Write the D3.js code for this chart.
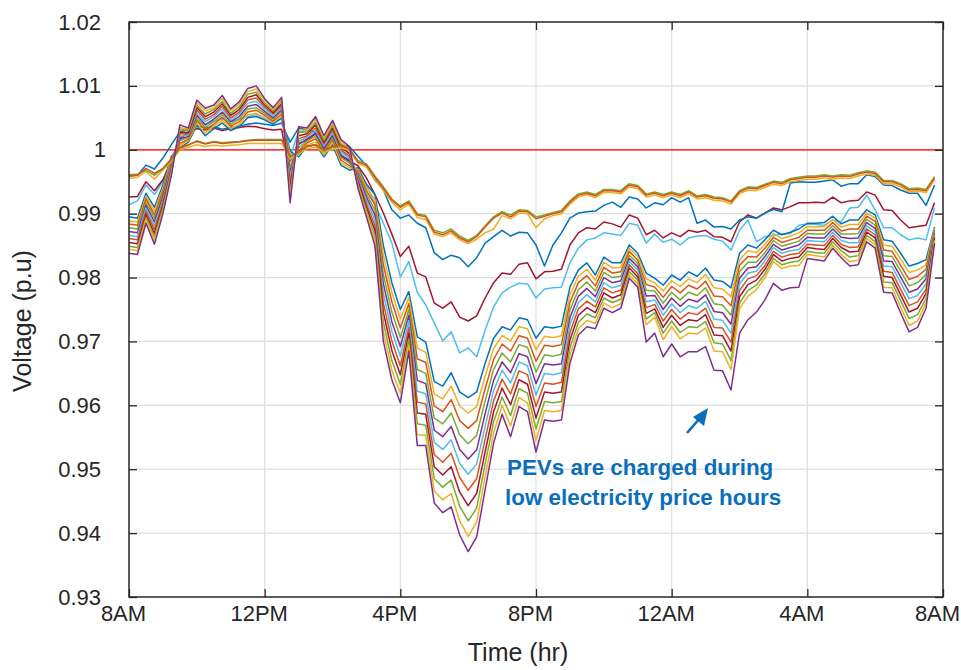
<!DOCTYPE html>
<html>
<head>
<meta charset="utf-8">
<script src="https://cdn.jsdelivr.net/npm/d3@7"></script>
<style>
  body { margin: 0; background: #fff; }
  text { font-family: "Liberation Sans", Arial, Helvetica, sans-serif; }
</style>
</head>
<body>
<svg id="chart" width="961" height="670"></svg>
<script>
// Bus voltage profiles over 24 h, sampled every 15 min starting 8AM.
// Values are stored in units of 1e-4 p.u. (e.g. 9959 -> 0.9959 p.u.).

const xTickHours  = [0, 4, 8, 12, 16, 20, 24];
const xTickLabels = ["8AM", "12PM", "4PM", "8PM", "12AM", "4AM", "8AM"];
const yTickValues = [0.93, 0.94, 0.95, 0.96, 0.97, 0.98, 0.99, 1.00, 1.01, 1.02];
const yTickLabels = ["0.93", "0.94", "0.95", "0.96", "0.97", "0.98", "0.99", "1", "1.01", "1.02"];

// buses close to the substation
const busHeadA = [
  9959,9960,9971,9963,9971,9986,10004,10008, 10013,10009,10012,10010,10011,10012,10014,10015,
  10015,10015,10015,9990,9997,10006,10008,10000, 10005,10007,10002,9981,9976,9957,9940,9921,
  9910,9918,9898,9895,9871,9867,9873,9862, 9856,9864,9879,9893,9901,9895,9904,9903,
  9892,9896,9900,9903,9918,9929,9932,9928, 9936,9936,9934,9945,9942,9929,9932,9928,
  9932,9928,9934,9926,9928,9924,9923,9918, 9934,9940,9939,9944,9949,9947,9953,9955,
  9957,9957,9959,9957,9959,9958,9962,9965, 9963,9950,9950,9945,9937,9938,9936,9956];
const busHeadB = [
  9961,9962,9968,9960,9970,9984,10002,10007, 10014,10010,10013,10011,10012,10013,10015,10016,
  10016,10016,10016,9988,9995,10005,10007,9998, 10004,10006,10001,9983,9978,9959,9942,9923,
  9912,9920,9900,9897,9874,9870,9876,9865, 9858,9866,9881,9895,9903,9898,9906,9905,
  9895,9898,9902,9905,9920,9931,9934,9930, 9938,9938,9936,9947,9944,9931,9934,9930,
  9934,9930,9936,9928,9930,9926,9925,9920, 9936,9942,9941,9946,9951,9949,9955,9957,
  9959,9959,9961,9959,9961,9960,9964,9967, 9965,9952,9952,9947,9939,9940,9938,9958];
const busHeadC = [
  9955,9957,9966,9954,9968,9982,10000,10004, 10008,10005,10007,10006,10007,10008,10010,10010,
  10010,10010,10010,9986,9993,10002,10004,9996, 10001,10003,9999,9979,9973,9954,9936,9918,
  9906,9915,9894,9891,9868,9864,9870,9859, 9853,9860,9870,9876,9897,9892,9901,9900,
  9878,9892,9897,9900,9915,9926,9930,9925, 9933,9933,9931,9942,9939,9926,9929,9925,
  9929,9925,9931,9923,9925,9921,9920,9915, 9931,9937,9936,9941,9946,9944,9950,9952,
  9954,9954,9956,9954,9956,9955,9959,9962, 9960,9947,9947,9942,9934,9935,9933,9953];

// intermediate buses
const busMidBlue = [
  9959,9960,9976,9970,9987,10008,10028,10032, 10038,10034,10036,10032,10035,10037,10040,10042,
  10040,10038,10042,10012,10034,10031,10027,10020, 10018,10008,10005,9990,9975,9953,9937,9906,
  9893,9898,9885,9878,9839,9828,9835,9831, 9817,9831,9854,9864,9874,9865,9871,9870,
  9851,9818,9851,9870,9893,9901,9903,9904, 9913,9918,9910,9926,9923,9909,9917,9914,
  9925,9918,9925,9885,9890,9879,9880,9876, 9890,9895,9893,9901,9907,9903,9948,9950,
  9949,9949,9951,9953,9943,9947,9947,9961, 9958,9945,9944,9937,9932,9932,9913,9945];
const busMidRed = [
  9926,9927,9950,9936,9953,9984,10018,10026, 10033,10031,10034,10030,10033,10035,10037,10036,
  10033,10031,10032,9960,10010,10015,10025,10002, 10020,9990,9982,9975,9956,9930,9901,9868,
  9833,9849,9807,9801,9760,9752,9762,9738, 9732,9740,9768,9792,9807,9805,9821,9823,
  9798,9809,9810,9813,9851,9870,9878,9876, 9887,9884,9879,9898,9893,9867,9874,9862,
  9870,9864,9874,9871,9874,9864,9863,9856, 9887,9898,9893,9901,9909,9906,9911,9917,
  9917,9918,9917,9926,9917,9920,9921,9934, 9929,9906,9905,9890,9878,9880,9882,9917];
const busMidCyan = [
  9914,9920,9945,9930,9950,9980,10018,10028, 10045,10040,10045,10048,10044,10048,10052,10055,
  10050,10045,10048,9990,10028,10030,10051,10015, 10040,10000,9985,9965,9945,9915,9885,9854,
  9801,9825,9777,9757,9729,9701,9715,9682, 9690,9676,9718,9754,9776,9785,9791,9790,
  9768,9782,9784,9785,9823,9846,9859,9862, 9870,9868,9866,9885,9882,9854,9868,9855,
  9860,9851,9862,9865,9866,9860,9857,9843, 9874,9890,9856,9864,9866,9868,9869,9882,
  9884,9883,9882,9890,9887,9909,9910,9929, 9906,9878,9878,9867,9859,9862,9859,9909];

// remote buses with PEV load (ordered from nearest to farthest)
const busFar00 = [
  9895,9893,9932,9910,9945,9990,10003,10012, 10038,10022,10033,10042,10030,10036,10050,10052,
  10047,10040,10050,9998,9989,10005,10008,9989, 10008,9976,9968,9972,9946,9930,9850,9792,
  9750,9778,9707,9699,9637,9630,9651,9621, 9612,9621,9666,9705,9723,9718,9737,9734,
  9705,9723,9721,9724,9785,9812,9823,9804, 9832,9823,9823,9851,9838,9807,9799,9788,
  9804,9796,9809,9802,9815,9796,9794,9784, 9838,9851,9846,9859,9874,9867,9871,9876,
  9885,9885,9886,9896,9884,9890,9890,9906, 9898,9859,9857,9838,9818,9822,9828,9879];
const busFar01 = [
  9889,9887,9927,9904,9940,9987,10007,10014, 10042,10026,10037,10046,10033,10040,10055,10057,
  10050,10043,10053,9990,9994,10008,10012,9992, 10012,9980,9972,9969,9941,9922,9835,9777,
  9735,9769,9690,9683,9618,9610,9630,9599, 9588,9598,9646,9689,9709,9701,9723,9720,
  9687,9708,9706,9709,9773,9802,9813,9796, 9824,9815,9816,9846,9833,9798,9792,9779,
  9795,9786,9798,9792,9805,9784,9782,9770, 9828,9842,9839,9852,9869,9861,9865,9870,
  9880,9879,9880,9891,9879,9883,9883,9901, 9893,9851,9849,9829,9808,9812,9820,9877];
const busFar02 = [
  9884,9882,9923,9898,9936,9984,10010,10016, 10046,10031,10040,10051,10037,10044,10059,10062,
  10054,10045,10056,9982,9998,10011,10017,9996, 10016,9984,9975,9966,9936,9914,9820,9762,
  9721,9759,9673,9667,9599,9590,9609,9576, 9564,9576,9626,9672,9696,9685,9709,9705,
  9669,9694,9692,9695,9761,9792,9803,9787, 9816,9807,9809,9841,9827,9789,9785,9769,
  9786,9776,9788,9782,9794,9771,9770,9756, 9819,9833,9832,9846,9863,9855,9859,9863,
  9874,9874,9874,9886,9873,9876,9876,9896, 9888,9843,9841,9819,9797,9802,9813,9874];
const busFar03 = [
  9878,9876,9918,9893,9931,9981,10014,10019, 10050,10035,10044,10055,10040,10048,10064,10066,
  10057,10048,10060,9974,10003,10014,10021,9999, 10019,9988,9979,9962,9931,9906,9805,9746,
  9706,9750,9656,9650,9580,9571,9588,9554, 9540,9553,9607,9656,9682,9668,9695,9691,
  9652,9679,9677,9680,9749,9781,9793,9779, 9808,9800,9802,9835,9822,9780,9779,9760,
  9777,9765,9777,9772,9784,9759,9757,9741, 9809,9824,9824,9839,9858,9849,9853,9857,
  9869,9868,9868,9881,9868,9868,9869,9891, 9882,9834,9833,9810,9787,9792,9805,9872];
const busFar04 = [
  9872,9870,9913,9887,9927,9978,10017,10021, 10054,10039,10048,10059,10044,10052,10068,10071,
  10060,10050,10063,9966,10008,10017,10026,10002, 10023,9992,9983,9959,9926,9898,9790,9731,
  9692,9741,9639,9634,9561,9551,9567,9531, 9516,9530,9587,9639,9668,9651,9681,9676,
  9634,9665,9663,9665,9737,9771,9783,9770, 9800,9792,9795,9830,9817,9771,9772,9750,
  9768,9755,9766,9762,9773,9747,9745,9727, 9799,9815,9817,9833,9852,9843,9847,9851,
  9863,9862,9862,9876,9863,9861,9862,9886, 9877,9826,9825,9801,9777,9782,9798,9869];
const busFar05 = [
  9866,9864,9909,9881,9922,9975,10021,10023, 10058,10044,10052,10064,10047,10056,10073,10076,
  10064,10053,10066,9958,10013,10020,10030,10006, 10027,9996,9987,9956,9921,9890,9775,9716,
  9677,9732,9622,9618,9542,9531,9546,9509, 9492,9508,9567,9623,9655,9635,9668,9662,
  9616,9650,9648,9651,9726,9761,9773,9762, 9792,9784,9788,9825,9812,9762,9765,9741,
  9759,9745,9756,9752,9763,9735,9733,9713, 9790,9807,9810,9826,9847,9838,9842,9844,
  9858,9857,9856,9871,9858,9854,9855,9881, 9872,9818,9817,9792,9767,9772,9790,9867];
const busFar06 = [
  9861,9859,9904,9875,9918,9972,10025,10025, 10062,10048,10055,10068,10050,10059,10078,10081,
  10067,10056,10069,9949,10017,10022,10034,10009, 10031,10000,9990,9953,9915,9882,9760,9701,
  9662,9722,9605,9602,9523,9511,9525,9487, 9467,9485,9547,9607,9641,9618,9654,9648,
  9598,9635,9633,9636,9714,9751,9763,9754, 9784,9776,9780,9820,9806,9753,9758,9732,
  9750,9735,9745,9742,9752,9722,9721,9699, 9780,9798,9803,9819,9841,9832,9836,9838,
  9852,9851,9850,9866,9852,9847,9848,9876, 9867,9810,9808,9782,9756,9762,9782,9864];
const busFar07 = [
  9855,9853,9899,9869,9913,9969,10028,10027, 10066,10052,10059,10072,10054,10063,10082,10086,
  10070,10058,10072,9941,10022,10025,10039,10012, 10035,10004,9994,9950,9910,9874,9745,9686,
  9648,9713,9588,9586,9504,9491,9504,9464, 9443,9462,9527,9590,9627,9601,9640,9633,
  9580,9621,9619,9621,9702,9741,9753,9745, 9776,9768,9773,9815,9801,9744,9751,9722,
  9741,9725,9734,9732,9742,9710,9709,9685, 9770,9789,9796,9813,9836,9826,9830,9832,
  9847,9845,9844,9861,9847,9840,9841,9871, 9862,9802,9800,9773,9746,9752,9775,9862];
const busFar08 = [
  9849,9847,9894,9864,9909,9966,10032,10030, 10070,10056,10063,10076,10057,10067,10087,10090,
  10073,10061,10076,9933,10027,10028,10043,10015, 10038,10008,9998,9946,9905,9866,9730,9670,
  9633,9704,9571,9569,9485,9472,9483,9442, 9419,9439,9508,9574,9613,9584,9626,9619,
  9563,9606,9604,9606,9690,9730,9743,9737, 9768,9761,9766,9809,9796,9735,9745,9713,
  9732,9714,9723,9722,9731,9698,9696,9670, 9760,9780,9788,9806,9830,9820,9824,9826,
  9841,9839,9838,9856,9842,9832,9834,9866, 9856,9793,9792,9764,9736,9742,9767,9859];
const busFar09 = [
  9844,9842,9890,9858,9904,9963,10035,10032, 10074,10061,10066,10081,10061,10071,10091,10095,
  10077,10063,10079,9925,10031,10031,10048,10019, 10042,10012,10001,9943,9900,9858,9715,9655,
  9619,9694,9554,9553,9466,9452,9462,9419, 9395,9417,9488,9557,9600,9568,9612,9604,
  9545,9592,9590,9592,9678,9720,9733,9728, 9760,9753,9759,9804,9790,9726,9738,9703,
  9723,9704,9713,9712,9721,9685,9684,9656, 9751,9771,9781,9800,9825,9814,9818,9819,
  9836,9834,9832,9851,9836,9825,9827,9861, 9851,9785,9784,9754,9725,9732,9760,9857];
const busFar10 = [
  9838,9836,9885,9852,9900,9960,10039,10034, 10078,10065,10070,10085,10064,10075,10096,10100,
  10080,10066,10082,9917,10036,10034,10052,10022, 10046,10016,10005,9940,9895,9850,9700,9640,
  9604,9685,9537,9537,9447,9432,9441,9397, 9371,9394,9468,9541,9586,9551,9598,9590,
  9527,9577,9575,9577,9666,9710,9723,9720, 9752,9745,9752,9799,9785,9699,9713,9676,
  9696,9676,9684,9684,9692,9655,9654,9624, 9713,9734,9746,9765,9791,9780,9784,9785,
  9830,9828,9826,9846,9831,9818,9820,9856, 9846,9777,9776,9745,9715,9722,9752,9854];

// drawing order (last drawn on top) and line colours
const seriesList = [
  busMidCyan, busMidRed, busMidBlue,
  busFar00, busFar01, busFar02, busFar03, busFar04, busFar05,
  busFar06, busFar07, busFar08, busFar09,
  busHeadC, busHeadB, busHeadA, busFar10
];
const seriesColors = [
  "#4DBEEE", "#A2142F", "#0072BD",
  "#0072BD", "#EDB120", "#D95319", "#77AC30", "#7E2F8E", "#4DBEEE",
  "#D95319", "#A2142F", "#77AC30", "#EDB120",
  "#EDB120", "#77AC30", "#D95319", "#7E2F8E"
];

const svg = d3.select("#chart");
const W = 961, H = 670;
const plot = { left: 129, right: 943, top: 22, bottom: 597 };

const x = d3.scaleLinear().domain([0, 24]).range([plot.left, plot.right]);
const y = d3.scaleLinear().domain([0.93, 1.02]).range([plot.bottom, plot.top]);

svg.append("rect").attr("width", W).attr("height", H).attr("fill", "#fff");

// grid
const grid = svg.append("g").attr("stroke", "#dedede").attr("stroke-width", 1.2);
grid.selectAll("line.gx").data(xTickHours.slice(1, -1)).join("line")
  .attr("x1", d => x(d)).attr("x2", d => x(d))
  .attr("y1", plot.top).attr("y2", plot.bottom);
grid.selectAll("line.gy").data(yTickValues.slice(1, -1)).join("line")
  .attr("x1", plot.left).attr("x2", plot.right)
  .attr("y1", d => y(d)).attr("y2", d => y(d));

// 1.0 p.u. reference
svg.append("line")
  .attr("x1", plot.left).attr("x2", plot.right)
  .attr("y1", y(1)).attr("y2", y(1))
  .attr("stroke", "#FF0000").attr("stroke-width", 1.3);

// voltage curves
const line = d3.line()
  .x((d, i) => x(i * 0.25))
  .y(d => y(d / 10000));

svg.append("g").selectAll("path").data(seriesList).join("path")
  .attr("d", d => line(d))
  .attr("fill", "none")
  .attr("stroke", (d, i) => seriesColors[i])
  .attr("stroke-width", 1.5)
  .attr("stroke-linejoin", "round");

// axes: ticks pointing inward on all four sides
const tickLen = 8;
const axisColor = "#262626";
const xb = svg.append("g").attr("transform", `translate(0,${plot.bottom})`)
  .call(d3.axisBottom(x).tickValues(xTickHours).tickSize(-tickLen).tickPadding(8)
    .tickFormat((d, i) => xTickLabels[i]));
const xt = svg.append("g").attr("transform", `translate(0,${plot.top})`)
  .call(d3.axisTop(x).tickValues(xTickHours).tickSize(-tickLen).tickFormat(""));
const yl = svg.append("g").attr("transform", `translate(${plot.left},0)`)
  .call(d3.axisLeft(y).tickValues(yTickValues).tickSize(-tickLen).tickPadding(28)
    .tickFormat((d, i) => yTickLabels[i]));
const yr = svg.append("g").attr("transform", `translate(${plot.right},0)`)
  .call(d3.axisRight(y).tickValues(yTickValues).tickSize(-tickLen).tickFormat(""));

[xb, xt, yl, yr].forEach(g => {
  g.select(".domain").remove();
  g.selectAll(".tick line").attr("stroke", axisColor).attr("stroke-width", 1.3);
  g.selectAll(".tick text").attr("fill", axisColor)
    .attr("font-family", "'Liberation Sans', Arial, sans-serif");
});
xb.selectAll(".tick text").attr("font-size", 22).attr("dx", -6);
yl.selectAll(".tick text").attr("font-size", 22)
  .attr("dx", d => (d === 1 ? 5 : 0));

// frame
svg.append("rect")
  .attr("x", plot.left).attr("y", plot.top)
  .attr("width", plot.right - plot.left).attr("height", plot.bottom - plot.top)
  .attr("fill", "none").attr("stroke", axisColor).attr("stroke-width", 1.5);

// axis titles
svg.append("text")
  .attr("x", 518).attr("y", 661)
  .attr("text-anchor", "middle").attr("font-size", 25).attr("fill", axisColor)
  .text("Time (hr)");
svg.append("text")
  .attr("transform", `translate(31,321) rotate(-90)`)
  .attr("text-anchor", "middle").attr("font-size", 25).attr("fill", axisColor)
  .text("Voltage (p.u)");

// annotation
const noteColor = "#0A6EBD";
const note = svg.append("g").attr("fill", noteColor).attr("font-weight", "bold").attr("font-size", 22.4);
note.append("text").attr("x", 507).attr("y", 475).text("PEVs are charged during");
note.append("text").attr("x", 505).attr("y", 505).text("low electricity price hours");

// arrow pointing at the overnight charging period
svg.append("line")
  .attr("x1", 687).attr("y1", 433).attr("x2", 700).attr("y2", 418)
  .attr("stroke", noteColor).attr("stroke-width", 2.6);
svg.append("path")
  .attr("d", "M708,408 L693,417 L704,426 Z")
  .attr("fill", noteColor);
</script>
</body>
</html>
